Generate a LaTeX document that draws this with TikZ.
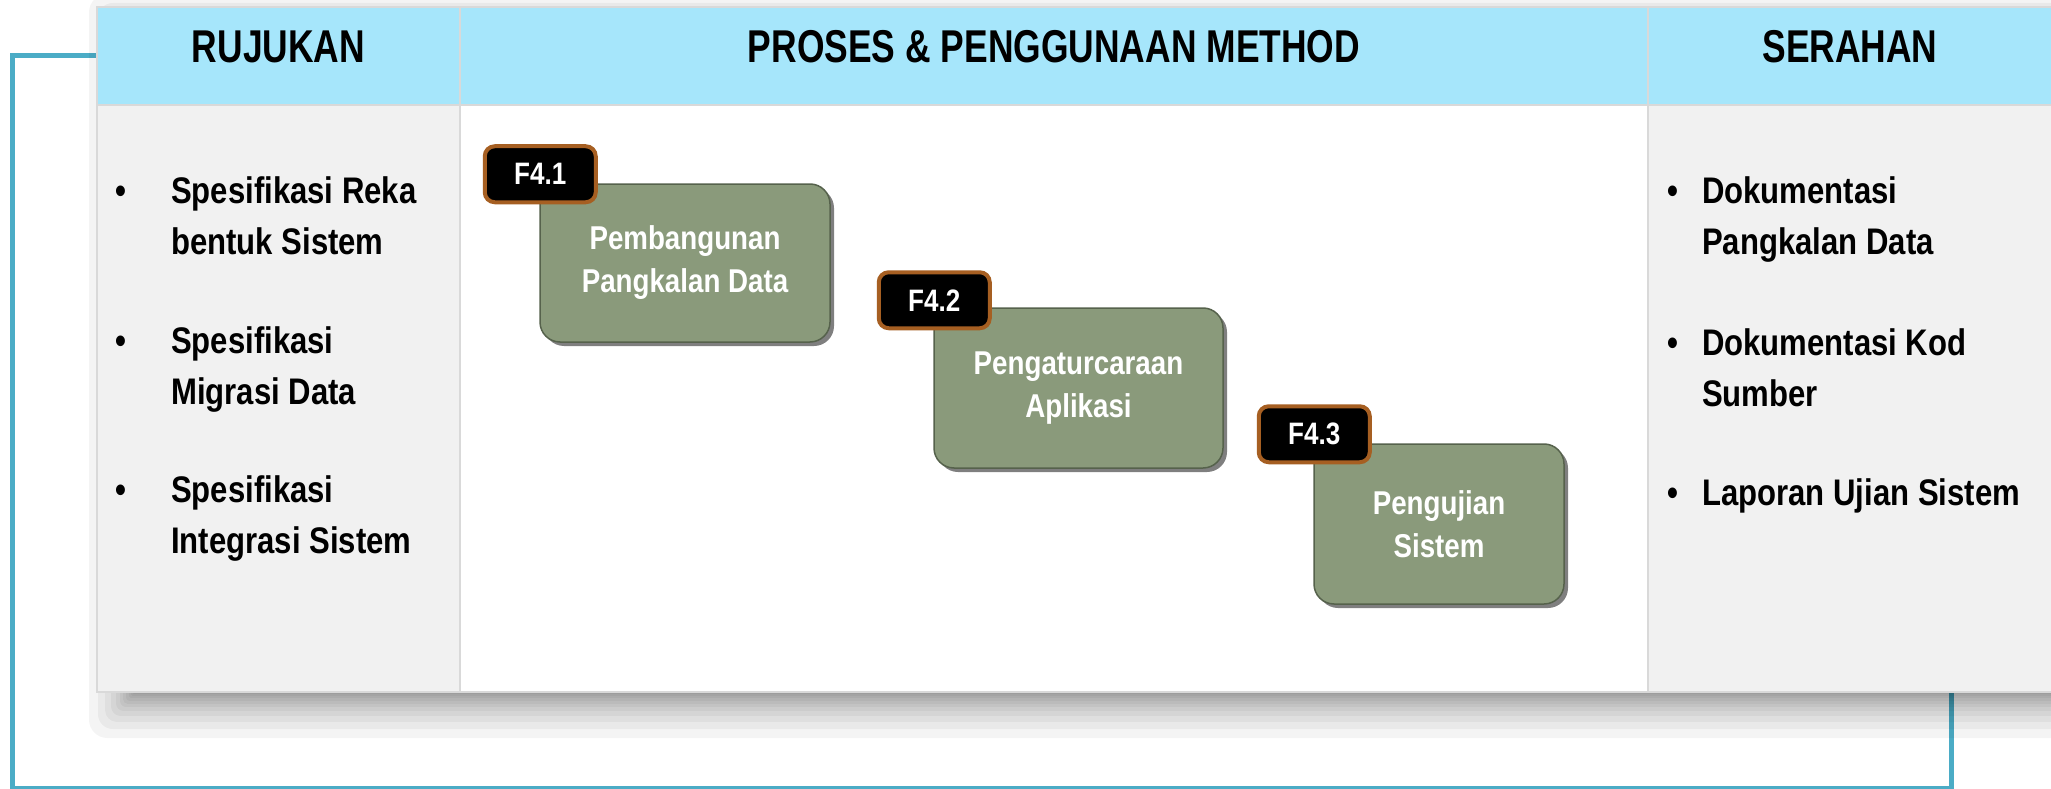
\documentclass[tikz,border=0pt]{standalone}
\usepackage{fontspec}
\setmainfont{Liberation Sans}
\newfontfamily\hdrfont{Liberation Sans}[FakeStretch=0.77]
\newfontfamily\txtfont{Liberation Sans}[FakeStretch=0.84]
\usetikzlibrary{shadows}

\definecolor{hdrblue}{HTML}{A6E6FB}
\definecolor{cellgray}{HTML}{F1F1F1}
\definecolor{gridgray}{HTML}{D9D9D9}
\definecolor{tealline}{HTML}{4BACC6}
\definecolor{stepgreen}{HTML}{8A9A7B}
\definecolor{stepedge}{HTML}{56624C}
\definecolor{tagedge}{HTML}{A65F22}

\pgfdeclarelayer{link}
\pgfdeclarelayer{shade}
\pgfsetlayers{link,shade,main}

\begin{document}
\begin{tikzpicture}[x=1pt,y=-1pt,
  cellbase/.style={rectangle, draw=gridgray, line width=2pt, inner sep=0pt},
  hdrcell/.style={cellbase, fill=hdrblue, minimum height=98pt},
  bodycell/.style={cellbase, minimum height=587pt},
  hdrtext/.style={font=\hdrfont\bfseries\fontsize{46}{50}\selectfont, inner sep=0pt, anchor=base},
  bullettext/.style={font=\txtfont\bfseries\fontsize{37}{51}\selectfont, inner sep=0pt, anchor=base},
  itemtext/.style={font=\txtfont\bfseries\fontsize{37}{51}\selectfont, inner sep=0pt, anchor=base west},
  stepbox/.style={rectangle, rounded corners=20pt, draw=stepedge, line width=1.5pt,
    fill=stepgreen, text=white, align=center, inner sep=0pt,
    font=\txtfont\bfseries\fontsize{33}{43}\selectfont,
    drop shadow={shadow xshift=4pt, shadow yshift=-4pt, opacity=0.5, fill=black}},
  tagbox/.style={rectangle, rounded corners=10pt, draw=tagedge, line width=4pt,
    fill=black, text=white, inner sep=0pt, minimum width=111pt, minimum height=56pt,
    font=\txtfont\bfseries\fontsize{31}{33}\selectfont},
  linkline/.style={draw=tealline, line width=5pt}
]
\useasboundingbox (0,0) rectangle (2051,789);
\clip (0,0) rectangle (2051,789);

% table cells: header row and body row
\node[hdrcell, minimum width=363pt] (h1) at (278.5,56) {};
\node[hdrcell, minimum width=1188pt] (h2) at (1054,56) {};
\node[hdrcell, minimum width=412pt] (h3) at (1854,56) {};
\node[bodycell, fill=cellgray, minimum width=363pt] (b1) at (278.5,398.5) {};
\node[bodycell, fill=white, minimum width=1188pt] (b2) at (1054,398.5) {};
\node[bodycell, fill=cellgray, minimum width=412pt] (b3) at (1854,398.5) {};

% soft shadow under the table
\begin{pgfonlayer}{shade}
  \clip (0,0) rectangle (2051,789);
  \foreach \e in {0,2,4,6,9,12,15,19,24,30,37,46} {
    \fill[black, opacity=0.045, rounded corners=0.4*\e pt]
      ({135-\e},{40-\e}) rectangle ({2100+\e},{692+\e});
  }
\end{pgfonlayer}

% teal loop from the reference column round to the bottom of the table
\coordinate (rc) at (1951,0);
\coordinate (lc) at (12,788);
\begin{pgfonlayer}{link}
  \draw[linkline] (h1.west) -| (lc) -| (b3.south -| rc);
\end{pgfonlayer}

% column titles
\node[hdrtext] (r1) at (278.5,62.5) {RUJUKAN};
\node[hdrtext] (r2) at (1054,62.5) {PROSES \& PENGGUNAAN METHOD};
\node[hdrtext] (r3) at (1850,62.5) {SERAHAN};

% inputs
\node[bullettext] (p1) at (121,204) {•};
\node[itemtext] (i1) at (171,204) {\parbox[t]{285pt}{\raggedright Spesifikasi Reka\\bentuk Sistem}};
\node[bullettext] (p2) at (121,353) {•};
\node[itemtext] (i2) at (171,353) {\parbox[t]{285pt}{\raggedright Spesifikasi\\Migrasi Data}};
\node[bullettext] (p3) at (121,502) {•};
\node[itemtext] (i3) at (171,502) {\parbox[t]{285pt}{\raggedright Spesifikasi\\Integrasi Sistem}};

% deliverables
\node[bullettext] (q1) at (1673,204) {•};
\node[itemtext] (o1) at (1702,204) {\parbox[t]{345pt}{\raggedright Dokumentasi\\Pangkalan Data}};
\node[bullettext] (q2) at (1673,355) {•};
\node[itemtext] (o2) at (1702,355) {\parbox[t]{345pt}{\raggedright Dokumentasi Kod\\Sumber}};
\node[bullettext] (q3) at (1673,505) {•};
\node[itemtext] (o3) at (1702,505) {\parbox[t]{345pt}{\raggedright Laporan Ujian Sistem}};

% process steps
\node[stepbox, minimum width=290pt, minimum height=158pt] (s1) at (685,263) {Pembangunan\\Pangkalan Data};
\node[tagbox] (t1) at ([shift={(1,-9)}]s1.north west) {F4.1};
\node[stepbox, minimum width=289pt, minimum height=160pt] (s2) at (1078.5,388) {Pengaturcaraan\\Aplikasi};
\node[tagbox] (t2) at ([shift={(1,-7)}]s2.north west) {F4.2};
\node[stepbox, minimum width=250pt, minimum height=160pt] (s3) at (1439,524) {Pengujian\\Sistem};
\node[tagbox] (t3) at ([shift={(1,-9)}]s3.north west) {F4.3};
\end{tikzpicture}
\end{document}
